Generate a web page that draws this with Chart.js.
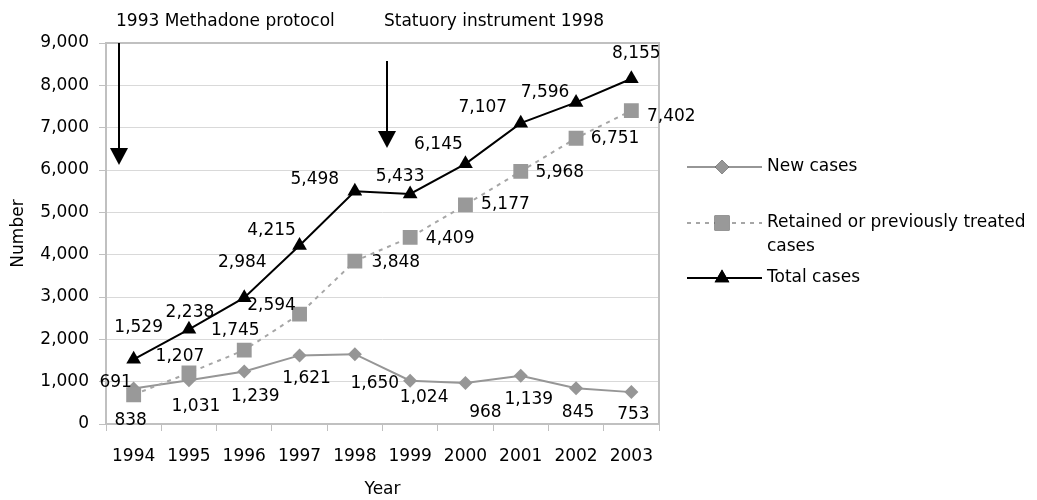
<!doctype html>
<html lang="en">
  <head>
    <title>Methadone treatment cases 1994-2003</title>
    <script src="https://cdn.jsdelivr.net/npm/chart.js@4/dist/chart.umd.min.js"></script>
    <style>
      body { margin: 0; background: #fff; }
    </style>
  </head>
  <body>
    <canvas id="myChart" width="1037" height="500"></canvas>
    <script>
      const years = ['1994', '1995', '1996', '1997', '1998', '1999', '2000', '2001', '2002', '2003'];
      const newCases = [838, 1031, 1239, 1621, 1650, 1024, 968, 1139, 845, 753];
      const retainedCases = [691, 1207, 1745, 2594, 3848, 4409, 5177, 5968, 6751, 7402];
      const totalCases = [1529, 2238, 2984, 4215, 5498, 5433, 6145, 7107, 7596, 8155];
      const yTicks = [0, 1000, 2000, 3000, 4000, 5000, 6000, 7000, 8000, 9000];

      // annotation arrows, in axis units (x = category index)
      const events = [
        { text: '1993 Methadone protocol', x: -0.27, from: 9000, to: 6120 },
        { text: 'Statuory instrument 1998', x: 4.59, from: 8575, to: 6520 }
      ];

      // where each data label sits relative to its point (px)
      const newOffsets = [[-3, 32], [7, 26], [11, 25], [7, 23], [20, 29], [14, 17], [20, 30], [8, 24], [2, 24], [2, 22]];
      const retainedOffsets = [[-18, -12], [-9, -16], [-9, -20], [-28, -9], [41, 1], [40, 1], [40, 0], [39, 1], [39, 0], [40, 6]];
      const totalOffsets = [[5, -32], [1, -17], [-2, -35], [-28, -15], [-40, -12], [-10, -17], [-27, -19], [-38, -16], [-31, -10], [5, -25]];

      const FONT = '17px "DejaVu Sans"';
      const fmt = v => v.toLocaleString('en-US');

      const dataLabels = {
        id: 'dataLabels',
        afterDatasetsDraw(chart) {
          const ctx = chart.ctx;
          const offsets = [newOffsets, retainedOffsets, totalOffsets];
          ctx.save();
          ctx.font = FONT;
          ctx.fillStyle = '#000';
          ctx.textAlign = 'center';
          ctx.textBaseline = 'middle';
          chart.data.datasets.forEach((ds, d) => {
            chart.getDatasetMeta(d).data.forEach((pt, i) => {
              const [dx, dy] = offsets[d][i];
              ctx.fillText(fmt(ds.data[i]), pt.x + dx, pt.y + dy);
            });
          });
          ctx.restore();
        }
      };

      const arrows = {
        id: 'arrows',
        afterDatasetsDraw(chart) {
          const ctx = chart.ctx;
          const xs = chart.scales.x, ys = chart.scales.y;
          ctx.save();
          events.forEach(ev => {
            const x = Math.round(xs.getPixelForValue(ev.x));
            const y0 = ys.getPixelForValue(ev.from);
            const y1 = ys.getPixelForValue(ev.to);
            ctx.strokeStyle = '#000';
            ctx.fillStyle = '#000';
            ctx.lineWidth = 2;
            ctx.beginPath();
            ctx.moveTo(x, y0);
            ctx.lineTo(x, y1 - 16);
            ctx.stroke();
            ctx.beginPath();
            ctx.moveTo(x - 9, y1 - 17);
            ctx.lineTo(x + 9, y1 - 17);
            ctx.lineTo(x, y1);
            ctx.closePath();
            ctx.fill();
            ctx.font = FONT;
            ctx.textAlign = 'left';
            ctx.textBaseline = 'middle';
            ctx.fillText(ev.text, x - 3, 22);
          });
          ctx.restore();
        }
      };

      const plotBorder = {
        id: 'plotBorder',
        beforeDatasetsDraw(chart) {
          const { ctx, chartArea: a } = chart;
          ctx.save();
          ctx.strokeStyle = '#c0c0c0';
          ctx.lineWidth = 2;
          ctx.strokeRect(a.left, a.top, a.right - a.left, a.bottom - a.top);
          ctx.restore();
        }
      };

      const sideLegend = {
        id: 'sideLegend',
        afterDraw(chart) {
          const { ctx, chartArea: a } = chart;
          const x0 = a.right + 28, x1 = a.right + 103, mx = a.right + 63;
          const items = [
            { ds: 0, y: a.top + 124, lines: ['New cases'] },
            { ds: 1, y: a.top + 180, lines: ['Retained or previously treated', 'cases'] },
            { ds: 2, y: a.top + 235, lines: ['Total cases'] }
          ];
          ctx.save();
          items.forEach(it => {
            const ds = chart.data.datasets[it.ds];
            ctx.strokeStyle = ds.borderColor;
            ctx.lineWidth = ds.borderWidth;
            ctx.setLineDash(ds.borderDash || []);
            ctx.beginPath();
            ctx.moveTo(x0, it.y);
            ctx.lineTo(x1, it.y);
            ctx.stroke();
            ctx.setLineDash([]);
            Chart.helpers.drawPoint(ctx, {
              pointStyle: ds.pointStyle, radius: ds.pointRadius, borderWidth: 0, rotation: 0
            }, mx, it.y);
            ctx.fillStyle = ds.pointBackgroundColor;
            ctx.fill();
            ctx.fillStyle = '#000';
            ctx.font = FONT;
            ctx.textAlign = 'left';
            ctx.textBaseline = 'middle';
            it.lines.forEach((t, k) => ctx.fillText(t, x1 + 5, it.y + k * 24));
          });
          ctx.restore();
        }
      };

      new Chart(document.getElementById('myChart'), {
        type: 'line',
        data: {
          labels: years,
          datasets: [
            {
              label: 'New cases',
              data: newCases,
              borderColor: '#969696',
              borderWidth: 2,
              pointStyle: 'rectRot',
              pointRadius: 7,
              pointBackgroundColor: '#969696',
              pointBorderWidth: 0,
              order: 2
            },
            {
              label: 'Retained or previously treated cases',
              data: retainedCases,
              borderColor: '#a6a6a6',
              borderWidth: 2,
              borderDash: [4, 5],
              pointStyle: 'rect',
              pointRadius: 10.5,
              pointBackgroundColor: '#999999',
              pointBorderWidth: 0,
              order: 1
            },
            {
              label: 'Total cases',
              data: totalCases,
              borderColor: '#000000',
              borderWidth: 2,
              pointStyle: 'triangle',
              pointRadius: 8.5,
              pointBackgroundColor: '#000000',
              pointBorderWidth: 0,
              order: 0
            }
          ]
        },
        options: {
          responsive: false,
          animation: false,
          layout: { padding: { top: 43, right: 378, left: 0, bottom: 0 } },
          plugins: { legend: { display: false }, tooltip: { enabled: false } },
          elements: { line: { tension: 0 } },
          scales: {
            x: {
              offset: true,
              afterFit: s => { s.height = 76; },
              grid: { drawOnChartArea: false, offset: true, tickLength: 7, color: '#c0c0c0' },
              border: { display: false },
              ticks: { color: '#000', font: { family: 'DejaVu Sans', size: 17 }, padding: 15, maxRotation: 0 },
              title: { display: true, text: 'Year', color: '#000', font: { family: 'DejaVu Sans', size: 17 }, padding: 0 }
            },
            y: {
              min: 0,
              max: 9000,
              afterFit: s => { s.width = 106; },
              afterBuildTicks: s => { s.ticks = yTicks.map(v => ({ value: v })); },
              grid: { color: '#d9d9d9', tickColor: '#c0c0c0', tickLength: 7 },
              border: { display: false },
              ticks: { color: '#000', font: { family: 'DejaVu Sans', size: 17 }, padding: 10, callback: v => fmt(v) },
              title: { display: true, text: 'Number', color: '#000', font: { family: 'DejaVu Sans', size: 17 }, padding: { top: 8, bottom: 0 } }
            }
          }
        },
        plugins: [plotBorder, arrows, dataLabels, sideLegend]
      });
    </script>
  </body>
</html>
